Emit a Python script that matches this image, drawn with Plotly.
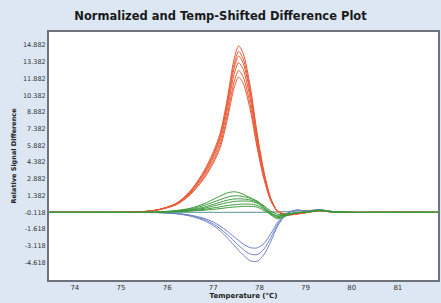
import plotly.graph_objects as go

# Temperature grid (°C)
temps = [73.45, 74.0, 74.5, 75.0,
         75.4, 75.8, 76.2, 76.5, 76.8, 77.0, 77.15, 77.3, 77.45, 77.55, 77.65,
         77.8, 77.95, 78.1, 78.25, 78.4, 78.6, 78.8, 79.0,
         79.3, 79.6, 80.0, 80.5, 81.0, 81.5, 81.87]

red_series = [
    [-0.12, -0.10, -0.12, -0.11, -0.08, 0.12, 0.70, 1.80, 3.60, 5.30, 7.00, 10.00, 13.60, 14.80, 14.10, 11.20, 7.00, 3.50, 1.10, -0.05, -0.35, -0.28, -0.15, 0.05, -0.08, -0.12, -0.11, -0.12, -0.12, -0.12],
    [-0.12, -0.11, -0.12, -0.12, -0.08, 0.12, 0.68, 1.74, 3.48, 5.12, 6.76, 9.66, 13.14, 14.30, 13.62, 10.82, 6.76, 3.38, 1.06, -0.05, -0.34, -0.27, -0.15, 0.04, -0.08, -0.12, -0.12, -0.11, -0.12, -0.12],
    [-0.11, -0.12, -0.12, -0.12, -0.08, 0.11, 0.66, 1.69, 3.38, 4.98, 6.57, 9.39, 12.77, 13.90, 13.24, 10.52, 6.57, 3.29, 1.03, -0.05, -0.33, -0.26, -0.14, 0.03, -0.09, -0.12, -0.12, -0.12, -0.11, -0.12],
    [-0.12, -0.12, -0.11, -0.12, -0.08, 0.11, 0.63, 1.62, 3.24, 4.76, 6.29, 8.99, 12.23, 13.30, 12.68, 10.07, 6.29, 3.15, 0.99, -0.05, -0.31, -0.25, -0.14, 0.03, -0.09, -0.12, -0.12, -0.12, -0.12, -0.12],
    [-0.12, -0.12, -0.12, -0.11, -0.08, 0.10, 0.60, 1.53, 3.06, 4.51, 5.96, 8.51, 11.57, 12.60, 12.00, 9.53, 5.96, 2.98, 0.94, -0.05, -0.30, -0.24, -0.13, 0.02, -0.10, -0.12, -0.12, -0.12, -0.12, -0.12],
    [-0.12, -0.12, -0.12, -0.12, -0.08, 0.10, 0.57, 1.46, 2.92, 4.30, 5.68, 8.11, 11.03, 12.00, 11.43, 9.08, 5.68, 2.84, 0.89, -0.05, -0.28, -0.23, -0.12, 0.02, -0.10, -0.12, -0.12, -0.12, -0.12, -0.12],
]

green_series = [
    [-0.12, -0.12, -0.11, -0.12, -0.12, -0.08, 0.05, 0.25, 0.65, 1.05, 1.35, 1.62, 1.73, 1.66, 1.50, 1.20, 0.85, 0.45, 0.00, -0.30, -0.25, -0.12, -0.10, 0.10, -0.05, -0.12, -0.12, -0.11, -0.12, -0.12],
    [-0.12, -0.11, -0.12, -0.12, -0.12, -0.09, 0.02, 0.18, 0.50, 0.80, 1.03, 1.24, 1.36, 1.36, 1.30, 1.15, 0.90, 0.40, -0.15, -0.45, -0.30, -0.15, -0.10, 0.08, -0.06, -0.12, -0.12, -0.12, -0.12, -0.12],
    [-0.12, -0.12, -0.12, -0.11, -0.12, -0.10, 0.00, 0.12, 0.35, 0.60, 0.79, 0.97, 1.08, 1.10, 1.08, 1.00, 0.80, 0.30, -0.30, -0.60, -0.35, -0.15, -0.10, 0.06, -0.07, -0.12, -0.11, -0.12, -0.12, -0.12],
    [-0.11, -0.12, -0.12, -0.12, -0.12, -0.10, -0.02, 0.08, 0.25, 0.45, 0.60, 0.75, 0.86, 0.89, 0.90, 0.88, 0.70, 0.25, -0.20, -0.50, -0.30, -0.15, -0.10, 0.05, -0.08, -0.12, -0.12, -0.12, -0.12, -0.12],
    [-0.12, -0.12, -0.12, -0.12, -0.12, -0.11, -0.05, 0.03, 0.15, 0.28, 0.38, 0.49, 0.56, 0.60, 0.62, 0.62, 0.50, 0.15, -0.35, -0.70, -0.40, -0.18, -0.10, 0.04, -0.08, -0.12, -0.12, -0.12, -0.11, -0.12],
    [-0.12, -0.12, -0.12, -0.12, -0.12, -0.11, -0.07, 0.00, 0.08, 0.15, 0.22, 0.30, 0.36, 0.39, 0.42, 0.42, 0.35, 0.05, -0.25, -0.45, -0.30, -0.15, -0.10, 0.04, -0.09, -0.12, -0.12, -0.12, -0.12, -0.12],
]

blue_series = [
    [-0.12, -0.12, -0.12, -0.12, -0.12, -0.14, -0.25, -0.45, -0.85, -1.30, -1.78, -2.38, -3.07, -3.52, -3.95, -4.45, -4.50, -3.90, -2.70, -1.30, -0.25, 0.10, 0.00, 0.12, -0.05, -0.12, -0.12, -0.12, -0.12, -0.12],
    [-0.12, -0.12, -0.11, -0.12, -0.12, -0.14, -0.23, -0.40, -0.75, -1.15, -1.58, -2.09, -2.69, -3.08, -3.45, -3.85, -3.90, -3.40, -2.35, -1.15, -0.22, 0.08, 0.00, 0.10, -0.06, -0.12, -0.12, -0.12, -0.12, -0.12],
    [-0.12, -0.11, -0.12, -0.12, -0.12, -0.13, -0.21, -0.36, -0.65, -0.98, -1.35, -1.80, -2.30, -2.64, -2.95, -3.28, -3.30, -2.90, -2.00, -0.98, -0.20, 0.06, -0.02, 0.08, -0.07, -0.12, -0.12, -0.12, -0.12, -0.12],
]

flat_series = [
    [-0.10, -0.12, -0.13, -0.11, -0.12, -0.12, -0.12, -0.11, -0.12, -0.12, -0.13, -0.12, -0.12, -0.12, -0.11, -0.12, -0.12, -0.10, -0.08, -0.06, -0.05, 0.02, 0.05, 0.10, -0.05, -0.12, -0.13, -0.11, -0.12, -0.11],
    [-0.13, -0.11, -0.12, -0.12, -0.11, -0.12, -0.12, -0.12, -0.12, -0.11, -0.12, -0.12, -0.12, -0.12, -0.12, -0.11, -0.12, -0.12, -0.10, -0.08, -0.05, 0.00, 0.03, 0.06, -0.06, -0.11, -0.12, -0.13, -0.12, -0.12],
]
flat_colors = ["#e8a060", "#5aa8b8"]

y_tickvals = [14.882, 13.382, 11.882, 10.382, 8.882, 7.382, 5.882, 4.382, 2.882, 1.382, -0.118, -1.618, -3.118, -4.618]
y_ticktext = ["14.882", "13.382", "11.882", "10.382", "8.882", "7.382", "5.882", "4.382", "2.882", "1.382", "-0.118", "-1.618", "-3.118", "-4.618"]
x_tickvals = [74, 75, 76, 77, 78, 79, 80, 81]

fig = go.Figure()

def add(series, color, width=1):
    for ys in series:
        fig.add_trace(go.Scatter(x=temps, y=ys, mode="lines",
                                 line=dict(color=color, width=width, shape="spline", smoothing=0.8),
                                 hoverinfo="skip", showlegend=False))

for ys, c in zip(flat_series, flat_colors):
    add([ys], c)
add(blue_series, "#6f82c8")
add(red_series, "#ea5a35")
add(green_series, "#3c9a3c")

fig.update_layout(
    width=441, height=303,
    margin=dict(l=49, r=3, t=32, b=23, autoexpand=False),
    paper_bgcolor="#dce7f3",
    plot_bgcolor="#ffffff",
    showlegend=False,
    title=dict(text="<b>Normalized and Temp-Shifted Difference Plot</b>",
               x=0.5, xanchor="center", y=0.947, yanchor="middle",
               font=dict(family="DejaVu Sans", size=11.5, color="#1a1a1a")),
    font=dict(family="DejaVu Sans", color="#333333"),
)
fig.update_xaxes(range=[73.44, 81.87], tickvals=x_tickvals, ticktext=[str(v) for v in x_tickvals],
                 showgrid=False, zeroline=False, showline=True, linecolor="#6e737b", linewidth=2,
                 mirror=True, ticks="", tickfont=dict(size=7, color="#333"), automargin=False,
                 title=dict(text="<b>Temperature (°C)</b>", font=dict(size=7, color="#222"), standoff=0))
fig.update_yaxes(range=[-6.18, 16.05], tickvals=y_tickvals, ticktext=y_ticktext,
                 showgrid=False, zeroline=False, showline=True, linecolor="#6e737b", linewidth=2,
                 mirror=True, ticks="", tickfont=dict(size=6.5, color="#333"), automargin=False,
                 title=dict(text="<b>Relative Signal Difference</b>", font=dict(size=6.5, color="#222"), standoff=6))

fig.write_html("out.html", config={"displayModeBar": False},
               post_script="document.body.style.margin='0';document.body.style.overflow='hidden';")
